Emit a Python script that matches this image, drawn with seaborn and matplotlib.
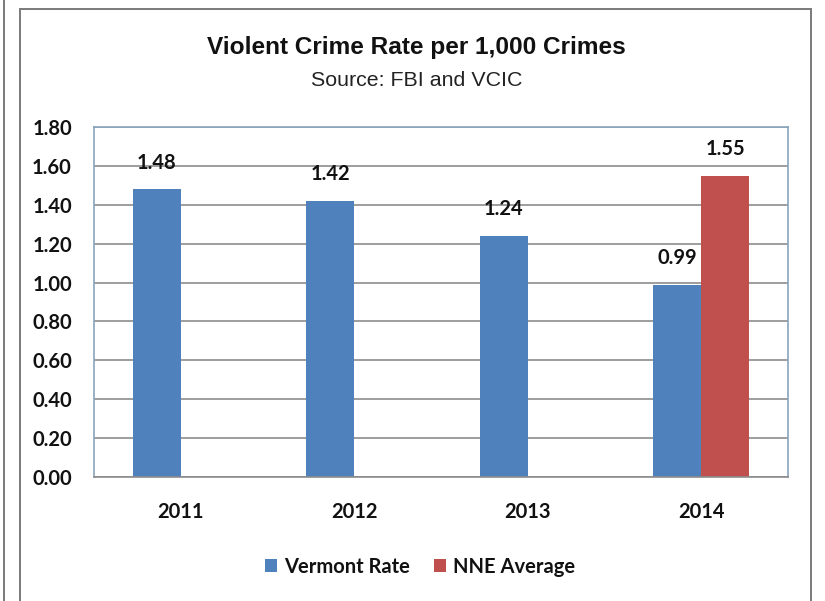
import matplotlib
matplotlib.use("Agg")
import matplotlib.pyplot as plt
import seaborn as sns
import pandas as pd
import numpy as np
from matplotlib.patches import Rectangle
from matplotlib.lines import Line2D

years = ["2011", "2012", "2013", "2014"]
vermont_rate = [1.48, 1.42, 1.24, 0.99]
nne_average = [np.nan, np.nan, np.nan, 1.55]
series_names = ["Vermont Rate", "NNE Average"]
yticks = [0.0, 0.2, 0.4, 0.6, 0.8, 1.0, 1.2, 1.4, 1.6, 1.8]

df = pd.DataFrame({
    "Year": years * 2,
    "Series": [series_names[0]] * 4 + [series_names[1]] * 4,
    "Value": vermont_rate + nne_average,
})

sns.set_theme(style="white")
plt.rcParams["font.family"] = ["Lato", "DejaVu Sans"]

fig = plt.figure(figsize=(8.25, 6.01), dpi=100)
ax = fig.add_axes([0.114, 0.2063, 0.841, 0.5824])

palette = {"Vermont Rate": "#4F81BD", "NNE Average": "#C0504D"}
sns.barplot(data=df, x="Year", y="Value", hue="Series", order=years,
            hue_order=series_names, palette=palette, width=0.553, gap=0,
            saturation=1, ax=ax, legend=True, errorbar=None, linewidth=0)

ax.set_ylim(0, 1.8)
ax.set_yticks(yticks)
ax.set_yticklabels([f"{v:.2f}" for v in yticks], fontsize=14.5, fontweight="bold", color="#111111")
ax.set_xticklabels(years, fontsize=14.5, fontweight="bold", color="#111111")
ax.tick_params(axis="x", length=0, pad=18)
ax.tick_params(axis="y", length=0, pad=16)
ax.set_xlabel("")
ax.set_ylabel("")
ax.yaxis.grid(True, color="#8c8c8c", linewidth=1.2)
ax.set_axisbelow(True)
for s in ax.spines.values():
    s.set_color("#8aa4bd")
    s.set_linewidth(1.2)
ax.spines["bottom"].set_color("#8c8c8c")

for cont in ax.containers:
    labels = ["" if (np.isnan(b.get_height()) or b.get_height() == 0) else f"{b.get_height():.2f}" for b in cont]
    ax.bar_label(cont, labels=labels, padding=12, fontsize=14.5, fontweight="bold", color="#111111")

leg = ax.legend(loc="center", bbox_to_anchor=(0.47, -0.257), ncol=2, frameon=False,
                prop={"size": 14.5, "weight": "bold"}, handlelength=0.6, handleheight=0.6,
                columnspacing=1.2, handletextpad=0.35)
for t in leg.get_texts():
    t.set_color("#111111")

fig.text(0.505, 0.921, "Violent Crime Rate per 1,000 Crimes", ha="center", va="center",
         fontsize=17.6, fontweight="bold", family=["Liberation Sans", "DejaVu Sans"], color="#111111")
fig.text(0.505, 0.866, "Source: FBI and VCIC", ha="center", va="center",
         fontsize=15.4, family=["Liberation Sans", "DejaVu Sans"], color="#222222")

fig.patches.append(Rectangle((20 / 825, -0.01), (811 - 20) / 825, 1 - 9 / 601 + 0.01,
                             transform=fig.transFigure, fill=False, edgecolor="#7a7a7a",
                             linewidth=1.4))
fig.lines.append(Line2D([3.5 / 825, 3.5 / 825], [0, 1], transform=fig.transFigure,
                        color="#7a7a7a", linewidth=1.4))

fig.savefig("out.png", dpi=100)
